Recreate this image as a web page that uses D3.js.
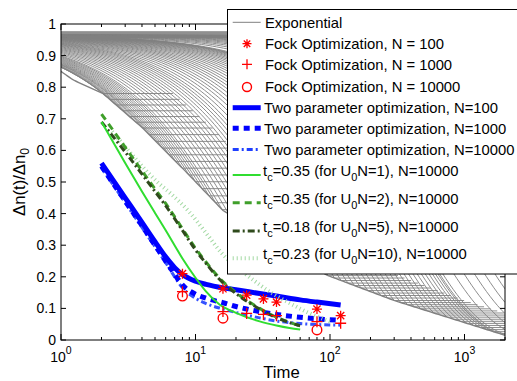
<!DOCTYPE html>
<html><head><meta charset="utf-8">
<script src="https://cdn.jsdelivr.net/npm/d3@7"></script>
<style>body{margin:0;background:#fff}svg{display:block;font-family:"Liberation Sans",Arial,sans-serif}</style>
</head><body><svg id="c" width="517" height="381"></svg>
<script>
// ---------------- data ----------------
// lower envelope of the "Exponential" family
const envT = [1, 1.23, 2.05, 4.07, 8.6, 16, 40, 95, 300, 1000, 2000, 4000];
const envY = [0.85, 0.823, 0.78, 0.67, 0.53, 0.41, 0.305, 0.205, 0.125, 0.055, 0.015, 0.005];
// times at which each exponential reaches the envelope (then stays flat)
const expKneeT = [2.05, 2.3, 2.57, 2.88, 3.23, 3.61, 4.05, 4.53, 5.08, 5.69, 6.37, 7.13, 7.99, 8.95,
  10.0, 11.2, 12.6, 14.1, 15.8, 17.7, 19.8, 22.2, 24.8, 27.8, 31.1, 34.9, 39.1, 43.7, 49.0, 54.9,
  61.5, 68.8, 77.1, 86.3, 96.7, 108, 121, 136, 152, 170, 191, 214, 239, 268, 300, 336, 377, 422,
  472, 529, 592, 663, 743, 832, 932, 1044, 1169, 1309, 1466, 1642, 1839];
// time constants of the exponentials that do not reach the envelope in the window
const expTau = [430, 520, 620, 740, 880, 1050, 1250, 1500, 1800, 2200, 2700, 3300, 4100, 5200,
  6800, 9000, 12500, 18000, 28000, 50000];
const bandLevels = [0.975, 0.972, 0.969, 0.966, 0.963, 0.96, 0.957];

const fockT = [8, 16, 24, 32, 40, 80, 120];
const fock100 = [0.21, 0.162, 0.142, 0.13, 0.12, 0.098, 0.077];
const fock1000 = [0.153, 0.09, 0.084, 0.081, 0.077, 0.058, 0.053];
const fockT10000 = [8, 16, 80];
const fock10000 = [0.139, 0.069, 0.032];

const twoT = [2, 3, 4, 5, 6, 7, 8, 10, 12, 16, 20, 30, 40, 60, 80, 120];
const two100 = [0.56, 0.45, 0.372, 0.311, 0.263, 0.229, 0.207, 0.186, 0.176, 0.165, 0.159, 0.147, 0.139, 0.127, 0.12, 0.111];
const two1000 = [0.55, 0.44, 0.362, 0.3, 0.25, 0.208, 0.174, 0.145, 0.132, 0.118, 0.106, 0.09, 0.081, 0.072, 0.067, 0.062];
const two10000 = [0.545, 0.435, 0.356, 0.295, 0.245, 0.2, 0.165, 0.132, 0.115, 0.098, 0.087, 0.07, 0.06, 0.052, 0.049, 0.047];

const tcT = [2, 3, 4, 5, 6, 8, 10, 12, 15, 20, 30, 40, 50, 60];
const tc1 = [0.69, 0.56, 0.47, 0.402, 0.347, 0.258, 0.197, 0.153, 0.113, 0.086, 0.059, 0.046, 0.038, 0.033];
const tc2 = [0.715, 0.61, 0.535, 0.478, 0.432, 0.352, 0.29, 0.246, 0.197, 0.15, 0.1, 0.072, 0.056, 0.045];
const tc5 = [0.69, 0.595, 0.525, 0.47, 0.425, 0.347, 0.285, 0.242, 0.193, 0.147, 0.098, 0.07, 0.055, 0.045];
const tc10T = [2.4, 3.4, 5.2, 6.4, 9, 12, 15.5, 20, 25, 38, 50, 70, 100];
const tc10 = [0.66, 0.585, 0.5, 0.467, 0.405, 0.338, 0.277, 0.232, 0.2, 0.145, 0.117, 0.085, 0.058];

const yTicks = [0, 0.1, 0.2, 0.3, 0.4, 0.5, 0.6, 0.7, 0.8, 0.9, 1];
const yTickLabels = ["0", "0.1", "0.2", "0.3", "0.4", "0.5", "0.6", "0.7", "0.8", "0.9", "1"];
const xTicks = [1, 10, 100, 1000];
const xTickExp = ["0", "1", "2", "3"];

// ---------------- drawing ----------------
const svg = d3.select("#c");
const L = 61, R = 505, T = 24, B = 340;
const x = d3.scaleLog().domain([1, 2000]).range([L, R]);
const y = d3.scaleLinear().domain([0, 1]).range([B, T]);
svg.append("rect").attr("width", 517).attr("height", 381).attr("fill", "#fff");
svg.append("defs").append("clipPath").attr("id", "pc").append("rect")
  .attr("x", L).attr("y", T).attr("width", R - L).attr("height", B - T);
const plot = svg.append("g").attr("clip-path", "url(#pc)");
const line = d3.line().x(d => x(d[0])).y(d => y(d[1]));

const envLT = envT.map(Math.log10);
const env = t => {
  const lt = Math.log10(t);
  for (let i = 0; i < envLT.length - 1; i++) {
    if (lt <= envLT[i + 1]) {
      const f = (lt - envLT[i]) / (envLT[i + 1] - envLT[i]);
      return envY[i] + f * (envY[i + 1] - envY[i]);
    }
  }
  return envY[envY.length - 1];
};
const A = 0.965, beta = 0.9, flatSpan = 0.52;
const geo = (a, b, n) => d3.range(n + 1).map(i => Math.pow(10, Math.log10(a) + i * (Math.log10(b) - Math.log10(a)) / n));
const gray = plot.append("g").attr("fill", "none").attr("stroke", "#808080").attr("stroke-width", 0.9);
// band at the top
bandLevels.forEach(v => gray.append("path").attr("stroke-width", 1.2).attr("d", line([[1, v], [2000, v]])));
// exponentials reaching the envelope, then flat
expKneeT.forEach(tk => {
  const lev = env(tk);
  const tau = tk / Math.pow(Math.log(A / lev), 1 / beta);
  const pts = geo(1, tk, 80).map(t => [t, A * Math.exp(-Math.pow(t / tau, beta))]);
  pts.push([Math.min(2000, tk * Math.pow(10, flatSpan)), lev]);
  gray.append("path").attr("d", line(pts));
});
expTau.forEach(tau => {
  const pts = geo(1, 2000, 120).map(t => [t, Math.max(env(t), A * Math.exp(-Math.pow(t / tau, beta)))]);
  gray.append("path").attr("d", line(pts));
});
gray.append("path").attr("stroke-width", 1.4).attr("d", line(geo(1, 2000, 200).map(t => [t, env(t)])));

// two-parameter optimization
const zip = (ts, vs) => ts.map((t, i) => [t, vs[i]]);
const curve = d3.line().x(d => x(d[0])).y(d => y(d[1])).curve(d3.curveMonotoneX);
plot.append("path").attr("d", curve(zip(twoT, two10000))).attr("fill", "none").attr("stroke", "#1f3fff")
  .attr("stroke-width", 3).attr("stroke-dasharray", "6,3,2,3").attr("opacity", 0.9);
plot.append("path").attr("d", curve(zip(twoT, two1000))).attr("fill", "none").attr("stroke", "#0000ff")
  .attr("stroke-width", 5).attr("stroke-dasharray", "6,5");
plot.append("path").attr("d", curve(zip(twoT, two100))).attr("fill", "none").attr("stroke", "#0000ff")
  .attr("stroke-width", 5);
// t_c curves
plot.append("path").attr("d", curve(zip(tc10T, tc10))).attr("fill", "none").attr("stroke", "#a3d9a3")
  .attr("stroke-width", 4).attr("stroke-dasharray", "1,3");
plot.append("path").attr("d", curve(zip(tcT, tc2))).attr("fill", "none").attr("stroke", "#3f9f2a")
  .attr("stroke-width", 3).attr("stroke-dasharray", "7,5");
plot.append("path").attr("d", curve(zip(tcT, tc5))).attr("fill", "none").attr("stroke", "#2f4a1c")
  .attr("stroke-width", 3).attr("stroke-dasharray", "7,3,2,3");
plot.append("path").attr("d", curve(zip(tcT, tc1))).attr("fill", "none").attr("stroke", "#30dd30")
  .attr("stroke-width", 2);

// markers
const red = "#ff0000";
const star = (g, cx, cy, s) => {
  const d = s * 0.72;
  g.append("path").attr("d", `M${cx - s},${cy}H${cx + s}M${cx},${cy - s}V${cy + s}M${cx - d},${cy - d}L${cx + d},${cy + d}M${cx - d},${cy + d}L${cx + d},${cy - d}`)
    .attr("stroke", red).attr("stroke-width", 1.3).attr("fill", "none");
};
const plus = (g, cx, cy, s) => g.append("path").attr("d", `M${cx - s},${cy}H${cx + s}M${cx},${cy - s}V${cy + s}`)
  .attr("stroke", red).attr("stroke-width", 1.3).attr("fill", "none");
const circ = (g, cx, cy, r) => g.append("circle").attr("cx", cx).attr("cy", cy).attr("r", r)
  .attr("stroke", red).attr("stroke-width", 1.4).attr("fill", "none");
const mk = svg.append("g");
fockT.forEach((t, i) => star(mk, x(t), y(fock100[i]), 5));
fockT.forEach((t, i) => plus(mk, x(t), y(fock1000[i]), 5.5));
fockT10000.forEach((t, i) => circ(mk, x(t), y(fock10000[i]), 4.8));

// axes box + ticks
const ax = svg.append("g").attr("stroke", "#000").attr("stroke-width", 1).attr("fill", "none");
ax.append("rect").attr("x", L).attr("y", T).attr("width", R - L).attr("height", B - T);
const minor = [];
[1, 10, 100, 1000].forEach(p => d3.range(2, 10).forEach(m => { if (p * m <= 2000) minor.push(p * m); }));
minor.forEach(v => {
  ax.append("path").attr("d", `M${x(v)},${B}v-3M${x(v)},${T}v3`);
});
xTicks.forEach(v => ax.append("path").attr("d", `M${x(v)},${B}v-6M${x(v)},${T}v6`));
yTicks.forEach(v => ax.append("path").attr("d", `M${L},${y(v)}h5M${R},${y(v)}h-5`));

const txt = svg.append("g").attr("fill", "#000").attr("font-size", 14);
yTicks.forEach((v, i) => txt.append("text").attr("x", L - 5).attr("y", y(v) + 5)
  .attr("text-anchor", "end").text(yTickLabels[i]));
xTicks.forEach((v, i) => {
  const t = txt.append("text").attr("x", x(v)).attr("y", B + 22).attr("text-anchor", "middle");
  t.append("tspan").text("10");
  t.append("tspan").attr("font-size", 10.5).attr("dy", -8).text(xTickExp[i]);
});
txt.append("text").attr("x", 281.5).attr("y", 378).attr("text-anchor", "middle").attr("font-size", 16.7).text("Time");
const yl = txt.append("text").attr("transform", `translate(25,${(T + B) / 2}) rotate(-90)`)
  .attr("text-anchor", "middle").attr("font-size", 16.7);
yl.append("tspan").text("\u0394n(t)/\u0394n");
yl.append("tspan").attr("font-size", 12).attr("dy", 4).text("0");

// legend
const lg = svg.append("g");
lg.append("rect").attr("x", 227.5).attr("y", 9.5).attr("width", 300).attr("height", 264.5)
  .attr("fill", "#fff").attr("stroke", "#000").attr("stroke-width", 1);
const lx0 = 232.7, lx1 = 260.7, lmx = 247;
const lt = lg.append("g").attr("font-size", 14.8).attr("fill", "#000");
const lline = (yy, stroke, w, dash) => lg.append("path").attr("d", `M${lx0},${yy}H${lx1}`)
  .attr("stroke", stroke).attr("stroke-width", w).attr("stroke-dasharray", dash || null).attr("fill", "none");
lline(22.3, "#808080", 1);
lt.append("text").attr("x", 265).attr("y", 27.5).text("Exponential");
star(lg, lmx, 43.7, 4.5);
lt.append("text").attr("x", 265).attr("y", 49).text("Fock Optimization, N = 100");
plus(lg, lmx, 64.3, 5);
lt.append("text").attr("x", 265).attr("y", 70).text("Fock Optimization, N = 1000");
circ(lg, lmx, 87, 4.5);
lt.append("text").attr("x", 265).attr("y", 92).text("Fock Optimization, N = 10000");
lline(107.7, "#0000ff", 5);
lt.append("text").attr("x", 264).attr("y", 113).text("Two parameter optimization, N=100");
lline(128.3, "#0000ff", 5, "6,5");
lt.append("text").attr("x", 264).attr("y", 134).text("Two parameter optimization, N=1000");
lline(149.5, "#1f3fff", 3, "6,3,2,3");
lt.append("text").attr("x", 264).attr("y", 155).text("Two parameter optimization, N=10000");
const tcLegend = [
  [175, "#30dd30", 2, null, "0.35", "1"],
  [202.7, "#3f9f2a", 3, "7,5", "0.35", "2"],
  [231, "#2f4a1c", 3, "7,3,2,3", "0.18", "5"],
  [258.3, "#a3d9a3", 4, "1,3", "0.23", "10"]
];
tcLegend.forEach(r => {
  lline(r[0], r[1], r[2], r[3]);
  const t = lt.append("text").attr("x", 263).attr("y", r[0] + 1);
  t.append("tspan").text("t");
  t.append("tspan").attr("font-size", 11).attr("dy", 5).text("c");
  t.append("tspan").attr("dy", -5).text(`=${r[4]} (for U`);
  t.append("tspan").attr("font-size", 11).attr("dy", 5).text("0");
  t.append("tspan").attr("dy", -5).text(`N=${r[5]}), N=10000`);
});
</script></body></html>
